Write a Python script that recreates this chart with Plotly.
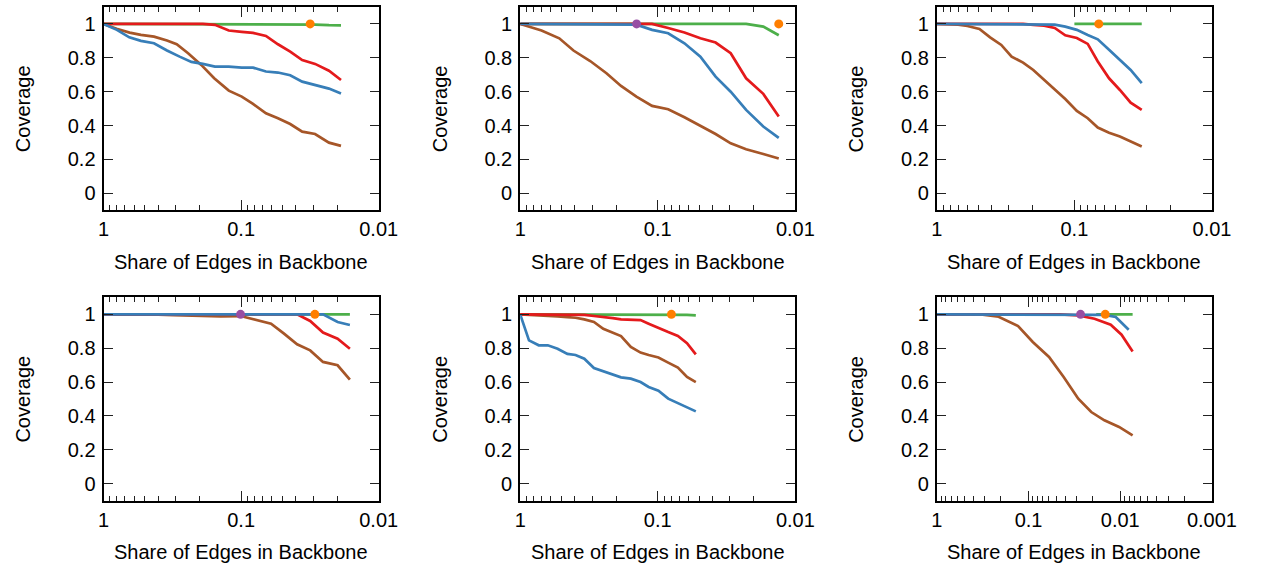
import plotly.graph_objects as go

FONT = "Liberation Sans, Arial, Helvetica, sans-serif"
RED, BLUE, GREEN, BROWN = "#e41a1c", "#377eb8", "#4daf4a", "#a65628"
ORANGE, PURPLE = "#ff7f00", "#984ea3"

# ---------------- data ----------------
# panel 1 (top left)
p1_x = [1, 0.80, 0.65, 0.535, 0.43, 0.346, 0.28, 0.23, 0.19, 0.155, 0.123, 0.099, 0.082, 0.066, 0.054, 0.044, 0.036, 0.029, 0.023, 0.0188]
p1_green = [1, 1, 1, 1, 1, 1, 1, 1, 1, 1, 1, 1, 1, 1, 1, 1, 1, 0.996, 0.993, 0.992]
p1_red = [1, 1, 1, 1, 1, 1, 1, 1, 1, 0.995, 0.961, 0.953, 0.947, 0.929, 0.88, 0.837, 0.787, 0.764, 0.724, 0.669]
p1_blue = [1, 0.965, 0.921, 0.90, 0.886, 0.843, 0.807, 0.776, 0.764, 0.748, 0.748, 0.742, 0.742, 0.719, 0.713, 0.697, 0.659, 0.638, 0.618, 0.589]
p1_brown_x = [1, 0.804, 0.647, 0.535, 0.43, 0.346, 0.294, 0.243, 0.195, 0.157, 0.123, 0.099, 0.082, 0.066, 0.054, 0.044, 0.036, 0.029, 0.023, 0.0188]
p1_brown = [1, 0.972, 0.949, 0.935, 0.925, 0.902, 0.88, 0.827, 0.758, 0.679, 0.606, 0.571, 0.528, 0.472, 0.443, 0.409, 0.364, 0.350, 0.299, 0.280]
p1_orange = (0.0315, 1)
p1_purple = None

# panel 2 (top middle)
p2_x = [1, 0.70, 0.52, 0.41, 0.31, 0.236, 0.185, 0.143, 0.110, 0.084, 0.064, 0.049, 0.038, 0.0295, 0.0228, 0.0171, 0.0132]
p2_green = [1, 1, 1, 1, 1, 1, 1, 1, 1, 1, 1, 1, 1, 1, 1, 0.984, 0.933]
p2_red = [1, 1, 1, 1, 1, 1, 1, 1, 1, 0.976, 0.949, 0.915, 0.89, 0.827, 0.679, 0.587, 0.453]
p2_blue = [1, 1, 1, 1, 1, 1, 1, 0.996, 0.965, 0.945, 0.886, 0.807, 0.689, 0.60, 0.492, 0.394, 0.327]
p2_brown = [1, 0.961, 0.915, 0.843, 0.781, 0.709, 0.634, 0.571, 0.516, 0.496, 0.449, 0.398, 0.350, 0.295, 0.260, 0.232, 0.205]
p2_orange = (0.0132, 1)
p2_purple = (0.1425, 1)

# panel 3 (top right)
p3_x = [1, 0.70, 0.60, 0.49, 0.41, 0.34, 0.286, 0.236, 0.199, 0.166, 0.139, 0.1165, 0.096, 0.080, 0.0676, 0.056, 0.0467, 0.039, 0.0324]
p3_green_x = [0.1, 0.0324]
p3_green = [1, 1]
p3_red = [1, 1, 1, 1, 1, 1, 1, 1, 0.995, 0.99, 0.976, 0.933, 0.917, 0.882, 0.778, 0.679, 0.610, 0.535, 0.492]
p3_blue = [1, 1, 0.997, 0.997, 0.997, 0.997, 0.997, 0.997, 0.997, 0.997, 0.996, 0.984, 0.965, 0.935, 0.909, 0.847, 0.787, 0.728, 0.650]
p3_brown = [1, 0.996, 0.988, 0.970, 0.921, 0.876, 0.807, 0.772, 0.728, 0.669, 0.610, 0.557, 0.486, 0.443, 0.388, 0.358, 0.335, 0.305, 0.276]
p3_orange = (0.0665, 1)
p3_purple = None

# panel 4 (bottom left)
p4_x = [1, 0.6, 0.4, 0.31, 0.2, 0.141, 0.101, 0.0754, 0.0606, 0.0488, 0.0392, 0.0315, 0.0254, 0.0199, 0.0162]
p4_green = [1, 1, 1, 1, 1, 1, 1, 1, 1, 1, 1, 1, 1, 1, 1]
p4_red = [1, 1, 1, 1, 1, 1, 1, 1, 1, 1, 1, 0.961, 0.892, 0.856, 0.797]
p4_blue = [1, 1, 1, 1, 1, 1, 1, 1, 1, 1, 1, 1, 1, 0.955, 0.937]
p4_brown = [1, 1, 0.998, 0.995, 0.99, 0.988, 0.99, 0.965, 0.945, 0.886, 0.823, 0.787, 0.719, 0.699, 0.614]
p4_orange = (0.0291, 1)
p4_purple = (0.101, 1)

# panel 5 (bottom middle)
p5_x = [1, 0.863, 0.733, 0.63, 0.535, 0.454, 0.396, 0.342, 0.291, 0.249, 0.212, 0.185, 0.157, 0.1334, 0.1165, 0.0989, 0.084, 0.0714, 0.0613, 0.0529]
p5_green = [1, 1, 1, 1, 1, 1, 1, 1, 1, 1, 1, 1, 1, 1, 1, 1, 1, 1, 0.997, 0.994]
p5_red = [1, 1, 1, 1, 1, 1, 1, 0.997, 0.99, 0.985, 0.978, 0.970, 0.970, 0.966, 0.945, 0.918, 0.895, 0.872, 0.83, 0.764]
p5_blue = [1, 0.846, 0.817, 0.817, 0.797, 0.766, 0.760, 0.738, 0.683, 0.663, 0.644, 0.628, 0.620, 0.600, 0.571, 0.549, 0.502, 0.476, 0.453, 0.427]
p5_brown = [1, 0.998, 0.996, 0.994, 0.988, 0.984, 0.98, 0.97, 0.955, 0.915, 0.892, 0.872, 0.807, 0.774, 0.76, 0.745, 0.715, 0.685, 0.63, 0.600]
p5_orange = (0.0796, 1)
p5_purple = None

# panel 6 (bottom right)
p6_green_x = [0.0183, 0.0103, 0.00733]
p6_green = [1, 1, 1]
p6_red_x = [1, 0.3, 0.1, 0.045, 0.0287, 0.0191, 0.0127, 0.00968, 0.00733]
p6_red = [1, 1, 1, 1, 0.994, 0.974, 0.939, 0.880, 0.781]
p6_blue_x = [1, 0.1, 0.0271, 0.0149, 0.0112, 0.00809]
p6_blue = [1, 1, 1, 0.997, 0.984, 0.909]
p6_brown_x = [1, 0.55, 0.332, 0.212, 0.130, 0.0899, 0.0598, 0.0414, 0.0287, 0.0207, 0.0149, 0.0103, 0.00733]
p6_brown = [1, 1, 1, 0.986, 0.931, 0.837, 0.748, 0.630, 0.502, 0.423, 0.374, 0.335, 0.285]
p6_orange = (0.01456, 1)
p6_purple = (0.0271, 1)

y_ticks = [0, 0.2, 0.4, 0.6, 0.8, 1]
y_tick_text = ["0", "0.2", "0.4", "0.6", "0.8", "1"]
x_ticks = [1, 0.1, 0.01, 0.001]
x_tick_text = ["1", "0.1", "0.01", "0.001"]
x_title = "Share of Edges in Backbone"
y_title = "Coverage"

panels = [
    dict(green=(p1_x, p1_green), red=(p1_x, p1_red), brown=(p1_brown_x, p1_brown), blue=(p1_x, p1_blue),
         orange=p1_orange, purple=p1_purple, decades=2),
    dict(green=(p2_x, p2_green), red=(p2_x, p2_red), brown=(p2_x, p2_brown), blue=(p2_x, p2_blue),
         orange=p2_orange, purple=p2_purple, decades=2),
    dict(green=(p3_green_x, p3_green), red=(p3_x, p3_red), brown=(p3_x, p3_brown), blue=(p3_x, p3_blue),
         orange=p3_orange, purple=p3_purple, decades=2),
    dict(green=(p4_x, p4_green), red=(p4_x, p4_red), brown=(p4_x, p4_brown), blue=(p4_x, p4_blue),
         orange=p4_orange, purple=p4_purple, decades=2),
    dict(green=(p5_x, p5_green), red=(p5_x, p5_red), brown=(p5_x, p5_brown), blue=(p5_x, p5_blue),
         orange=p5_orange, purple=p5_purple, decades=2),
    dict(green=(p6_green_x, p6_green), red=(p6_red_x, p6_red), brown=(p6_brown_x, p6_brown), blue=(p6_blue_x, p6_blue),
         orange=p6_orange, purple=p6_purple, decades=3),
]

# ---------------- layout geometry ----------------
W, H = 1276, 565
FS = 20
col_px = [(100, 382), (527, 809), (954, 1236)]
row_px = [(7, 210.2), (297.4, 500.6)]
ytitle_px = [17, 444.5, 871]
xtitle_py = [261.7, 551.5]

fig = go.Figure()
layout = dict(
    width=W, height=H, margin=dict(l=0, r=0, t=0, b=0),
    paper_bgcolor="white", plot_bgcolor="white", showlegend=False,
    font=dict(family=FONT, size=FS, color="black"),
    annotations=[],
)

line_colors = dict(green=GREEN, brown=BROWN, red=RED, blue=BLUE)

for i, p in enumerate(panels):
    r, c = divmod(i, 3)
    n = i + 1
    xa = "x" if n == 1 else f"x{n}"
    ya = "y" if n == 1 else f"y{n}"
    for key in ["green", "brown", "red", "blue"]:
        xs, ys = p[key]
        fig.add_trace(go.Scatter(x=xs, y=ys, mode="lines", xaxis=xa, yaxis=ya,
                                 line=dict(color=line_colors[key], width=2.7), hoverinfo="skip"))
    for key, col in [("purple", PURPLE), ("orange", ORANGE)]:
        pt = p[key]
        if pt is not None:
            fig.add_trace(go.Scatter(x=[pt[0]], y=[pt[1]], mode="markers", xaxis=xa, yaxis=ya,
                                     marker=dict(color=col, size=9, line=dict(width=0)), hoverinfo="skip"))

    dec = p["decades"]
    majors = x_ticks[: dec + 1]
    minors = [m * 10.0 ** (-k - 1) for k in range(dec) for m in range(2, 10)]
    x0, x1 = col_px[c]
    y0, y1 = row_px[r]
    xkey = "xaxis" if n == 1 else f"xaxis{n}"
    ykey = "yaxis" if n == 1 else f"yaxis{n}"
    layout[xkey] = dict(
        type="log", range=[0, -dec], domain=[x0 / W, x1 / W], anchor=ya,
        tickmode="array", tickvals=majors, ticktext=x_tick_text[: dec + 1],
        ticks="inside", ticklen=10, tickwidth=1.2, tickcolor="#222",
        minor=dict(tickmode="array", tickvals=minors, ticks="inside", ticklen=5, tickwidth=1.2, tickcolor="#222"),
        showline=True, linewidth=2, linecolor="black", mirror="ticks",
        showgrid=False, zeroline=False, tickfont=dict(size=FS, family=FONT, color="black"),
        fixedrange=True,
    )
    layout[ykey] = dict(
        range=[-0.1, 1.1], domain=[1 - y1 / H, 1 - y0 / H], anchor=xa,
        tickmode="array", tickvals=y_ticks, ticktext=y_tick_text,
        ticks="inside", ticklen=9, tickwidth=1.2, tickcolor="#222",
        showline=True, linewidth=2, linecolor="black", mirror="ticks",
        showgrid=False, zeroline=False, tickfont=dict(size=FS, family=FONT, color="black"),
        ticklabelstandoff=2, fixedrange=True,
    )
    layout["annotations"].append(dict(
        text=y_title, textangle=-90, xref="paper", yref="paper",
        x=ytitle_px[c] / W, y=1 - (y0 + y1) / 2 / H, xanchor="center", yanchor="middle",
        showarrow=False, font=dict(size=FS, family=FONT, color="black")))
    layout["annotations"].append(dict(
        text=x_title, xref="paper", yref="paper",
        x=(x0 + x1) / 2 / W, y=1 - xtitle_py[r] / H, xanchor="center", yanchor="middle",
        showarrow=False, font=dict(size=FS, family=FONT, color="black")))

fig.update_layout(**layout)
fig.write_html("out.html", config={"displayModeBar": False},
               post_script="document.body.style.margin='0';document.body.style.overflow='hidden';")
